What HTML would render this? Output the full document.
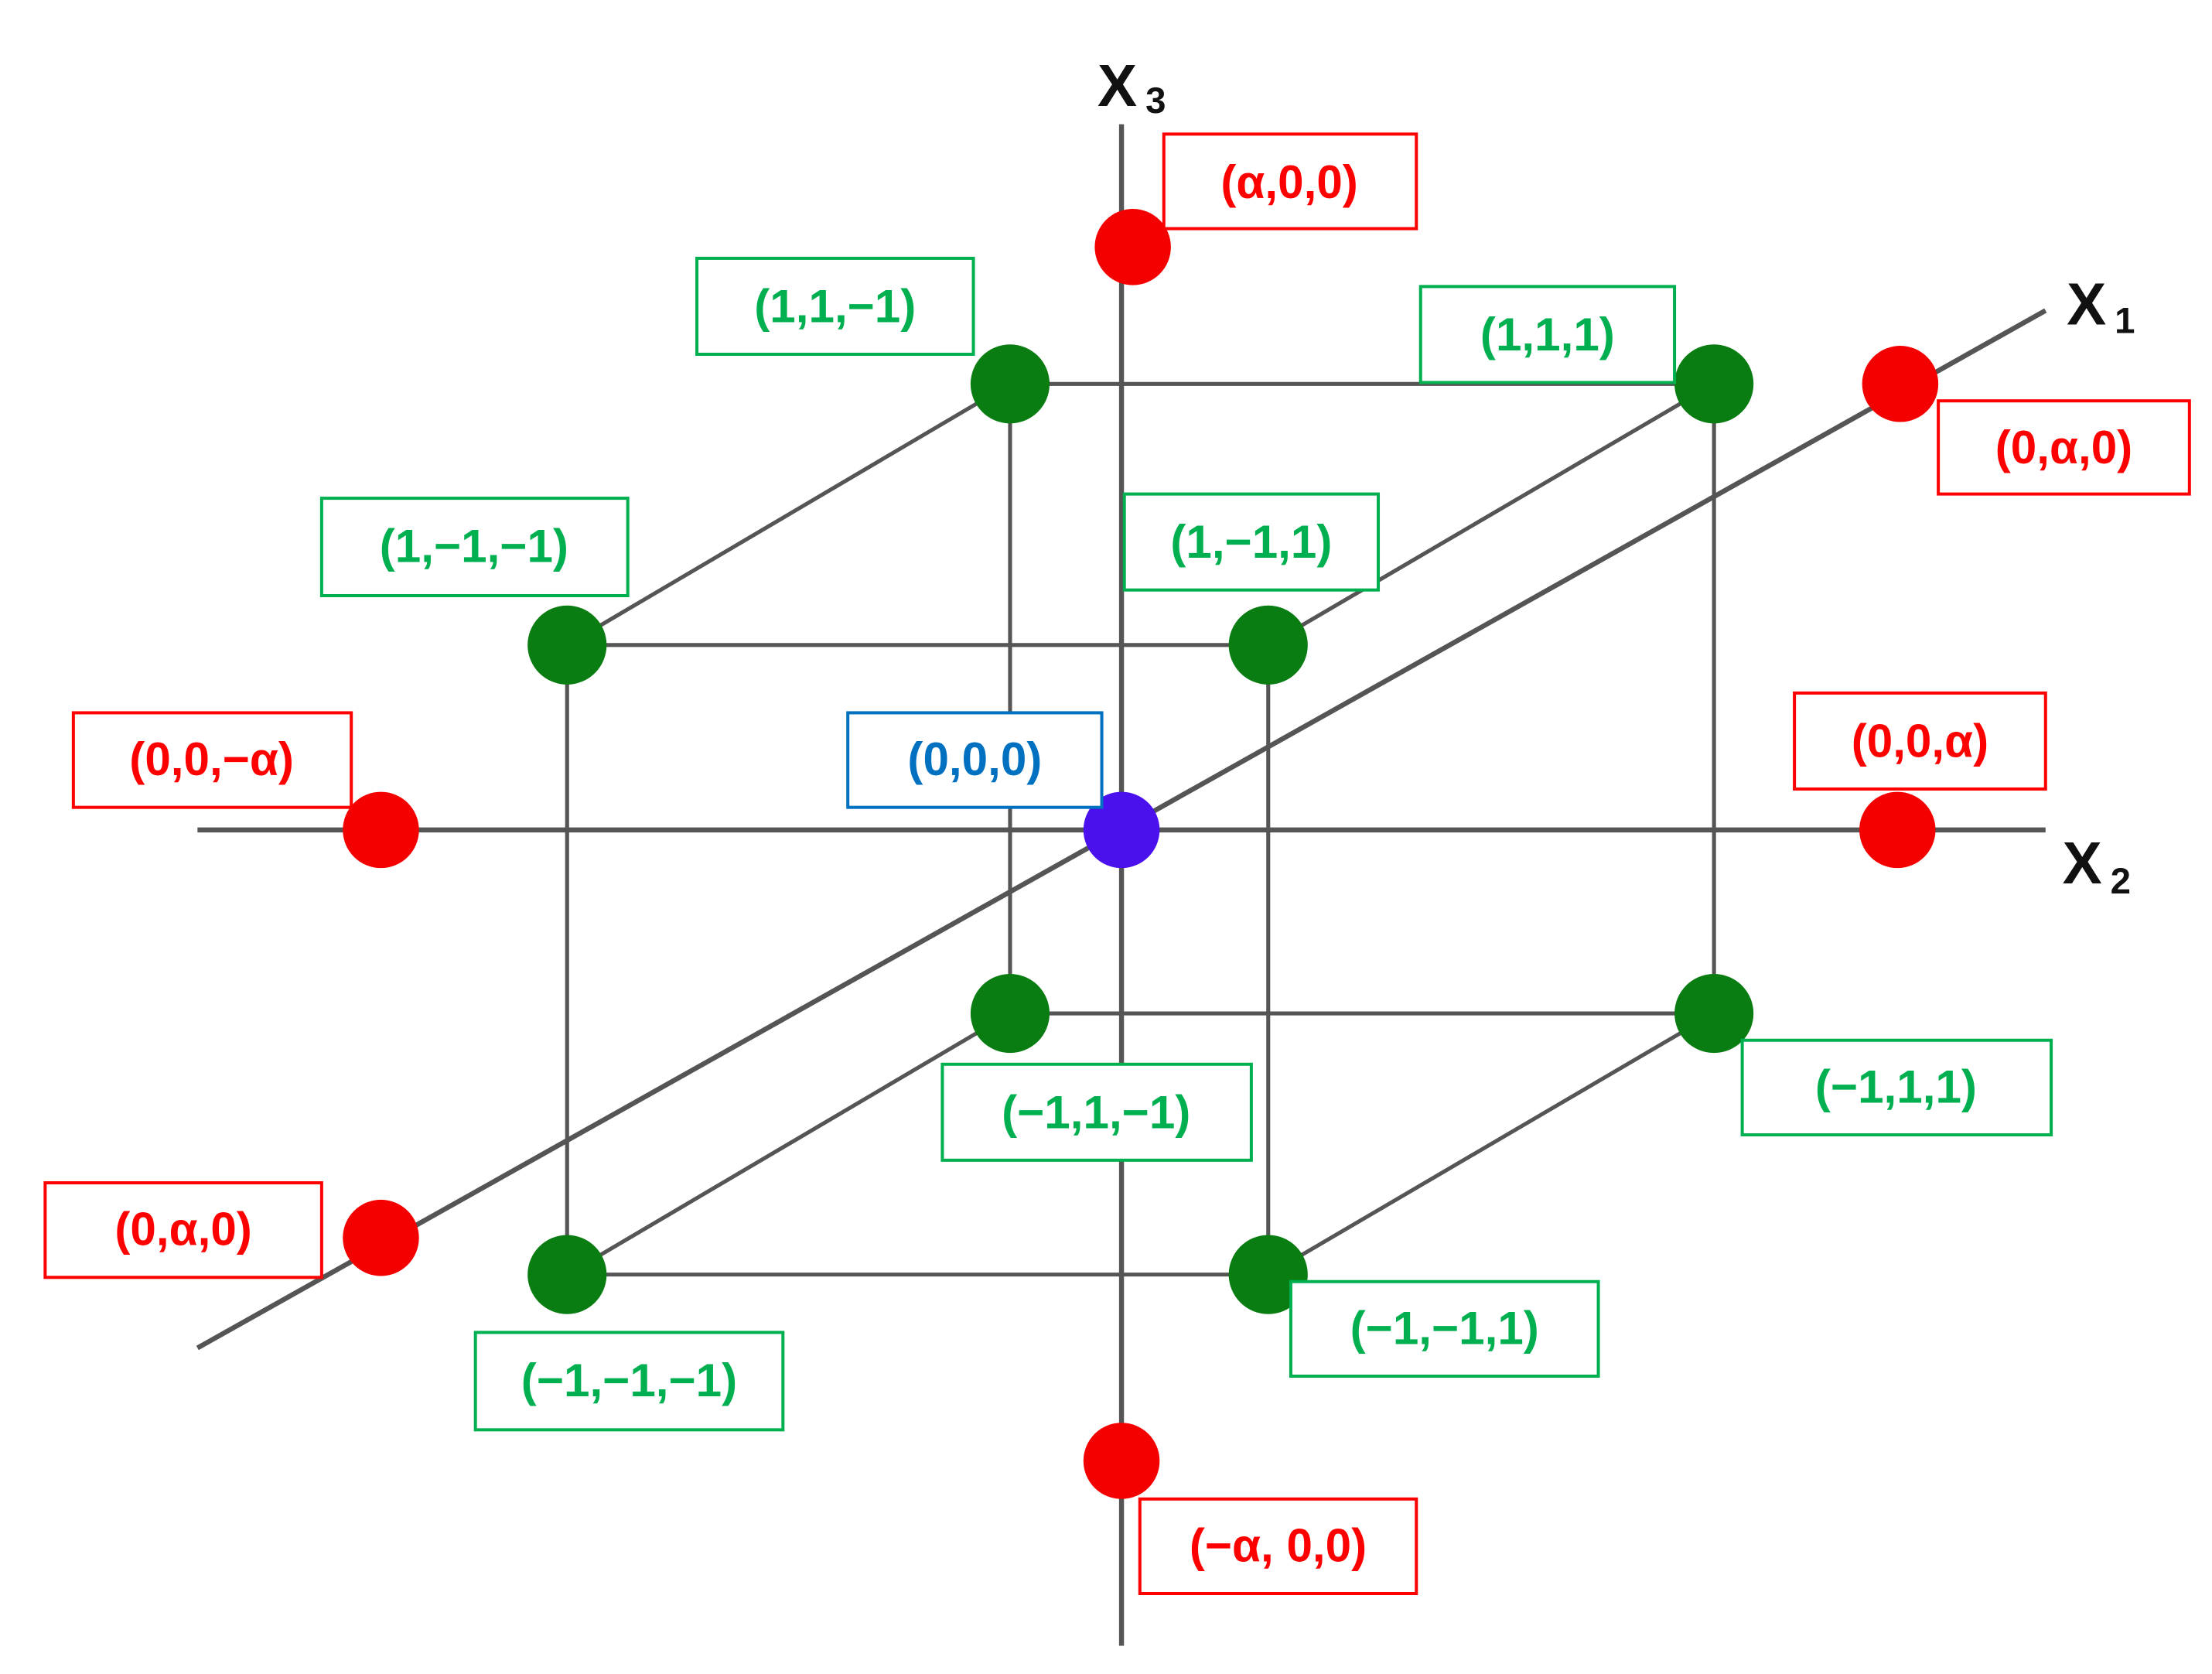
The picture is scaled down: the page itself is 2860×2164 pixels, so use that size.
<!DOCTYPE html>
<html><head><meta charset="utf-8"><style>
html,body{margin:0;padding:0;background:#fff;}
svg{display:block;}
.l{font-family:"Liberation Sans",sans-serif;font-weight:bold;font-size:33px;text-anchor:middle;dominant-baseline:central;}
.ax{font-family:"Liberation Sans",sans-serif;font-weight:bold;fill:#111;}
</style></head><body>
<svg width="2860" height="2164" viewBox="0 0 1568 1186" preserveAspectRatio="none" xmlns="http://www.w3.org/2000/svg">
<rect width="1568" height="1186" fill="#fff"/>
<g stroke="#555" stroke-width="3.5" fill="none">
<line x1="795" y1="88" x2="795" y2="1166"/>
<line x1="140" y1="588" x2="1450" y2="588"/>
<line x1="140" y1="955" x2="1450" y2="220"/>
</g>
<g stroke="#555" stroke-width="2.8" fill="none">
<line x1="716" y1="272" x2="1215" y2="272"/>
<line x1="402" y1="457" x2="899" y2="457"/>
<line x1="716" y1="718" x2="1215" y2="718"/>
<line x1="402" y1="903" x2="899" y2="903"/>
<line x1="716" y1="272" x2="716" y2="718"/>
<line x1="1215" y1="272" x2="1215" y2="718"/>
<line x1="402" y1="457" x2="402" y2="903"/>
<line x1="899" y1="457" x2="899" y2="903"/>
<line x1="402" y1="457" x2="716" y2="272"/>
<line x1="899" y1="457" x2="1215" y2="272"/>
<line x1="402" y1="903" x2="716" y2="718"/>
<line x1="899" y1="903" x2="1215" y2="718"/>
</g>
<g fill="#0a7d12">
<circle cx="716" cy="272" r="28"/><circle cx="1215" cy="272" r="28"/>
<circle cx="402" cy="457" r="28"/><circle cx="899" cy="457" r="28"/>
<circle cx="716" cy="718" r="28"/><circle cx="1215" cy="718" r="28"/>
<circle cx="402" cy="903" r="28"/><circle cx="899" cy="903" r="28"/>
</g>
<g fill="#f50000">
<circle cx="803" cy="175" r="27"/><circle cx="1347" cy="272" r="27"/>
<circle cx="270" cy="588" r="27"/><circle cx="1345" cy="588" r="27"/>
<circle cx="270" cy="877" r="27"/><circle cx="795" cy="1035" r="27"/>
</g>
<circle cx="795" cy="588" r="27" fill="#4a10ee"/>
<text class="ax" x="778" y="75" font-size="42">X</text><text class="ax" x="812" y="80" font-size="26">3</text>
<text class="ax" x="1465" y="230" font-size="42">X</text><text class="ax" x="1499" y="236" font-size="26">1</text>
<text class="ax" x="1462" y="626" font-size="42">X</text><text class="ax" x="1496" y="633" font-size="26">2</text>
<g fill="#fff" stroke-width="2.2">
<rect x="825" y="95" width="179" height="67" stroke="#f00"/>
<rect x="494" y="183" width="196" height="68" stroke="#00b050"/>
<rect x="1007" y="203" width="180" height="68" stroke="#00b050"/>
<rect x="1374" y="284" width="178" height="66" stroke="#f00"/>
<rect x="228" y="353" width="217" height="69" stroke="#00b050"/>
<rect x="797" y="350" width="180" height="68" stroke="#00b050"/>
<rect x="52" y="505" width="197" height="67" stroke="#f00"/>
<rect x="601" y="505" width="180" height="67" stroke="#0070c0"/>
<rect x="1272" y="491" width="178" height="68" stroke="#f00"/>
<rect x="668" y="754" width="219" height="68" stroke="#00b050"/>
<rect x="1235" y="737" width="219" height="67" stroke="#00b050"/>
<rect x="32" y="838" width="196" height="67" stroke="#f00"/>
<rect x="337" y="944" width="218" height="69" stroke="#00b050"/>
<rect x="915" y="908" width="218" height="67" stroke="#00b050"/>
<rect x="808" y="1062" width="196" height="67" stroke="#f00"/>
</g>
<g class="l">
<text class="l" x="914" y="129" fill="#f00">(α,0,0)</text>
<text class="l" x="592" y="217" fill="#00b050">(1,1,−1)</text>
<text class="l" x="1097" y="237" fill="#00b050">(1,1,1)</text>
<text class="l" x="1463" y="317" fill="#f00">(0,α,0)</text>
<text class="l" x="336" y="387" fill="#00b050">(1,−1,−1)</text>
<text class="l" x="887" y="384" fill="#00b050">(1,−1,1)</text>
<text class="l" x="150" y="538" fill="#f00">(0,0,−α)</text>
<text class="l" x="691" y="538" fill="#0070c0">(0,0,0)</text>
<text class="l" x="1361" y="525" fill="#f00">(0,0,α)</text>
<text class="l" x="777" y="788" fill="#00b050">(−1,1,−1)</text>
<text class="l" x="1344" y="770" fill="#00b050">(−1,1,1)</text>
<text class="l" x="130" y="871" fill="#f00">(0,α,0)</text>
<text class="l" x="446" y="978" fill="#00b050">(−1,−1,−1)</text>
<text class="l" x="1024" y="941" fill="#00b050">(−1,−1,1)</text>
<text class="l" x="906" y="1095" fill="#f00">(−α, 0,0)</text>
</g>
</svg>
</body></html>
